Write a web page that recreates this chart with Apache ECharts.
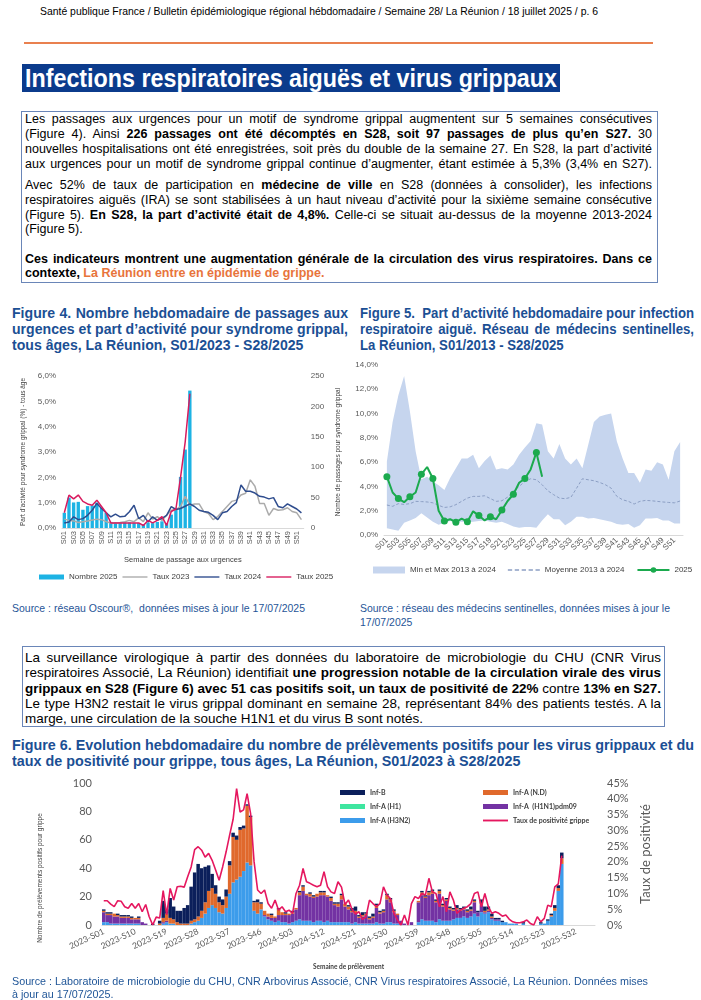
<!DOCTYPE html>
<html><head><meta charset="utf-8">
<script src="https://cdn.jsdelivr.net/npm/echarts@6/dist/echarts.min.js"></script>
<style>
body{margin:0;background:#fff;width:701px;height:1000px;position:relative;overflow:hidden;font-family:'Liberation Sans',Arial,sans-serif;color:#000;}
.a{position:absolute;white-space:nowrap;}
.box{position:absolute;border:1px solid #6A86B8;box-sizing:border-box;}
.cap{color:#1B4F94;font-weight:bold;}
.src{color:#1F5597;}
.or{color:#E8743B;}
.ch{position:absolute;}
</style></head><body>
<div style="position:absolute;left:24px;top:42px;width:629px;height:2px;background:#E9804F"></div>
<div style="position:absolute;left:22px;top:64px;width:538px;height:28px;background:#0B3B8C"></div>
<div class="box" style="left:21px;top:111px;width:637px;height:172px"></div>
<div class="box" style="left:22px;top:646px;width:643px;height:81px"></div>
<div id="c4" class="ch" style="left:0;top:360px;width:350px;height:230px"></div>
<div id="c5" class="ch" style="left:350px;top:355px;width:351px;height:235px"></div>
<div id="c6" class="ch" style="left:0;top:770px;width:701px;height:208px"></div>
<script>
// ---------- DATA ----------
const weeks = ['S01','S02','S03','S04','S05','S06','S07','S08','S09','S10','S11','S12','S13','S14','S15','S16','S17','S18','S19','S20','S21','S22','S23','S24','S25','S26','S27','S28','S29','S30','S31','S32','S33','S34','S35','S36','S37','S38','S39','S40','S41','S42','S43','S44','S45','S46','S47','S48','S49','S50','S51','S52'];

// Figure 4
const nombre2025 = [25,50,42,43,30,36,37,42,33,25,10,9,8,9,9,8,8,6,9,8,10,11,8,22,33,84,129,226];
const taux2023 = [0.35,0.3,0.28,0.22,0.25,0.28,0.32,0.35,0.33,0.25,0.2,0.2,0.22,0.25,0.3,0.25,0.4,0.25,0.6,0.35,0.45,0.3,0.5,0.7,0.72,0.85,1.25,0.9,0.95,0.95,0.65,0.57,0.33,0.45,0.65,0.85,1.05,1.1,1.3,1.37,1.9,1.65,0.97,0.97,0.5,0.77,0.7,0.72,0.8,0.65,0.6,0.33];
const taux2024 = [0.2,0.24,0.44,0.33,0.37,0.5,0.7,0.97,0.77,0.6,0.44,0.55,0.44,0.46,0.64,0.9,0.37,0.5,0.24,0.44,0.3,0.38,0.5,0.84,0.73,0.77,0.86,0.95,0.85,0.7,0.65,0.62,0.5,0.33,0.6,0.65,0.85,1.0,1.7,1.45,1.45,1.38,1.25,1.22,1.15,1.2,0.85,0.8,0.95,0.85,0.75,0.6];
const taux2025 = [0.6,1.3,1.15,1.3,1.05,0.95,0.9,1.1,0.85,0.6,0.2,0.2,0.2,0.2,0.2,0.2,0.2,0.1,0.3,0.2,0.3,0.45,0.1,0.65,0.75,2.0,3.4,5.3];

// Figure 5
const ira2025 = [4.8,3.5,3.0,2.7,3.15,3.5,5.0,5.6,4.65,2.0,1.15,1.3,1.05,1.35,1.1,1.95,1.6,1.2,1.5,1.3,2.05,2.8,3.35,4.3,4.65,5.4,6.8,4.8];
const moyenne = [2.47,2.36,2.58,2.52,2.58,2.77,2.75,2.72,2.65,2.44,2.27,2.32,2.5,2.77,3.04,3.18,3.18,3.23,3.0,2.77,2.82,3.12,3.59,4.0,4.41,4.63,4.55,4.14,3.64,3.32,3.04,2.99,3.1,3.86,4.63,4.55,4.47,4.33,4.14,3.86,3.18,2.9,2.77,2.55,2.77,2.85,2.82,2.77,2.72,2.68,2.65,2.8];
const maxi = [6.05,9.3,11.5,13.1,10.2,6.9,4.6,4.8,4.4,4.1,3.7,4.7,5.5,6.3,6.3,6.6,5.5,6.1,6.55,5.4,5.5,5.4,5.8,6.6,7.2,7.75,9.2,9.1,6.9,6.3,7.5,6.3,5.8,6.3,5.5,7.4,9.3,9.75,9.9,10.0,7.7,6.3,5.1,5.1,4.3,5.4,5.3,6.0,5.8,4.55,6.9,7.65];
const mini = [0.55,0.45,0.35,1.0,1.2,1.4,1.8,1.45,1.1,0.85,1.0,1.15,1.1,1.1,1.05,1.1,1.15,1.2,1.1,1.0,1.1,0.9,0.7,0.6,0.65,0.65,0.6,1.2,1.7,1.3,1.3,0.8,1.1,1.5,1.5,1.35,1.4,1.3,1.2,1.1,0.9,0.85,0.9,0.6,0.8,1.35,1.35,1.4,1.2,1.2,0.95,0.95];

// Figure 6 (2023-S01 ... 2025-S28)
const years6 = ['2023','2024','2025'];
const infA_H3N2 = [2,2,1,1,1,1,1,1,1,1,1,0,0,0,0,0,0,1,2,1,1,0,0,0,0,1,2,3,5,8,12,14,12,9,8,12,22,30,32,34,38,44,42,10,8,11,6,4,3,2,3,2,
 2,1,2,3,4,3,3,3,2,3,3,2,3,2,2,2,2,2,2,1,2,1,1,1,1,1,2,1,1,2,2,1,1,0,0,0,0,0,2,4,3,3,3,2,4,3,3,3,4,5,5,6,
 5,6,8,6,9,8,9,4,3,3,2,2,1,1,1,0,1,0,0,0,0,1,1,3,6,10,24,43];
const infA_H1N1 = [7,5,6,5,5,4,4,4,3,3,3,2,1,0,0,0,0,1,1,0,0,0,0,0,0,0,0,0,0,0,0,0,0,0,0,0,0,0,0,0,0,0,0,0,0,0,1,2,2,3,4,5,
 5,6,6,8,17,21,18,17,17,17,18,19,17,15,12,11,16,11,9,8,6,4,5,6,3,4,10,7,8,16,14,8,6,3,1,0,2,0,14,17,16,18,19,14,18,10,14,8,6,6,5,5,
 4,4,8,3,5,1,1,1,1,1,0,0,0,0,0,0,0,0,0,0,0,0,0,0,0,0,0,0];
const infA_H1 = [];
const infA_ND = [1,1,1,2,1,1,1,1,1,1,1,0,0,0,0,0,1,3,5,4,3,2,1,1,1,2,2,3,5,8,12,12,10,7,6,8,20,32,28,33,30,40,34,6,8,4,3,2,2,1,4,2,
 1,1,1,1,2,3,1,2,1,2,2,2,1,2,1,2,3,2,2,1,2,1,1,1,1,1,2,1,1,3,2,1,1,0,0,0,0,0,1,2,1,2,2,1,2,1,1,1,1,1,1,1,
 1,1,1,0,1,1,1,1,0,0,0,0,0,0,0,0,0,0,0,0,0,0,0,0,1,2,2,4];
const infB = [1,1,1,0,1,1,1,1,1,0,1,0,0,0,1,0,2,12,3,14,9,8,9,11,13,24,33,37,30,25,18,10,6,4,4,5,3,3,3,2,2,1,1,1,2,1,0,0,1,0,1,0,
 1,0,1,0,1,1,0,1,1,0,1,1,0,1,1,1,1,0,1,2,3,1,2,1,1,2,1,1,1,1,1,1,0,0,0,0,0,0,0,1,1,1,1,1,1,1,1,1,1,2,1,1,
 1,2,1,1,3,3,2,2,1,1,1,0,0,0,0,0,1,0,0,0,0,1,0,1,1,2,2,4];
const tauxPositivite = [7.7,7.7,6.6,5.8,7.7,7.5,5.8,5.3,6.8,5.3,6.8,4.2,6.5,2.6,0,2.5,2.2,10.9,3.2,11.6,7.9,12.1,12.3,12.0,15.3,18.4,23.9,24.8,23.7,21.5,22.7,20.5,17.4,14.2,18.4,23.2,28.5,33.5,43.2,35.8,36.5,41.6,35.3,20.0,11.1,10.0,11.1,6.8,5.3,7.9,4.7,5.8,
 4.2,4.7,3.7,10.0,12.6,17.9,13.7,13.2,12.6,12.1,12.6,16.9,12.1,10.5,10.0,13.7,12.0,6.5,7.9,5.0,3.5,4.2,1.8,2.6,7.9,6.8,5.8,6.8,12.1,9.5,8.4,3.7,1.6,0,3.2,0,6.8,9.0,8.4,10.0,9.5,14.8,10.5,10.0,5.8,9.0,4.2,10.5,7.9,3.7,4.7,5.3,
 5.8,6.8,10.0,10.5,5.8,10.0,5.8,3.7,4.2,3.7,2.8,3.2,1.8,1.0,0.7,0.7,1.0,1.6,0.5,0,2.6,1.0,2.1,6.3,5.8,12.1,13,22];

// ---------- TEXT ----------
const B = s => '<b>'+s+'</b>';
const lines = [
 // [block, class, fontSize, left, centerY, width, mode, html]   class 'n' = narrow
 ['hd','n',11.5,40,11,558,'j','Santé publique France / Bulletin épidémiologique régional hébdomadaire / Semaine 28/ La Réunion / 18 juillet 2025 / p. 6'],
 ['tt','n',26,25,78,532,'s','<b style="color:#fff">Infections respiratoires aiguës et virus grippaux</b>'],
 ['b1','',12.5,25,118.5,627,'j','Les passages aux urgences pour un motif de syndrome grippal augmentent sur 5 semaines consécutives'],
 ['b1','',12.5,25,133.5,627,'j','(Figure 4). Ainsi '+B('226 passages ont été décomptés en S28, soit 97 passages de plus qu’en S27.')+' 30'],
 ['b1','',12.5,25,148.5,627,'j','nouvelles hospitalisations ont été enregistrées, soit près du double de la semaine 27. En S28, la part d’activité'],
 ['b1','',12.5,25,163.5,627,'j','aux urgences pour un motif de syndrome grippal continue d’augmenter, étant estimée à 5,3% (3,4% en S27).'],
 ['b1','',12.5,25,184.5,627,'j','Avec 52% de taux de participation en '+B('médecine de ville')+' en S28 (données à consolider), les infections'],
 ['b1','',12.5,25,199.5,627,'j','respiratoires aiguës (IRA) se sont stabilisées à un haut niveau d’activité pour la sixième semaine consécutive'],
 ['b1','',12.5,25,214.5,627,'j','(Figure 5). '+B('En S28, la part d’activité était de 4,8%.')+' Celle-ci se situait au-dessus de la moyenne 2013-2024'],
 ['b1','',12.5,25,229,0,'','(Figure 5).'],
 ['b1','',12.5,25,258.5,627,'j',B('Ces indicateurs montrent une augmentation générale de la circulation des virus respiratoires. Dans ce')],
 ['b1','',12.5,25,273,0,'',B('contexte, <span class="or">La Réunion entre en épidémie de grippe.</span>')],
 ['c4','n cap',15,12,312,336,'j','Figure 4. Nombre hebdomadaire de passages aux'],
 ['c4','n cap',15,12,328,336,'j','urgences et part d’activité pour syndrome grippal,'],
 ['c4','n cap',15,12,344,0,'','tous âges, La Réunion, S01/2023 - S28/2025'],
 ['c5','n cap',15,360,312,334,'j','Figure 5.&nbsp; Part d’activité hebdomadaire pour infection'],
 ['c5','n cap',15,360,328,334,'j','respiratoire aiguë. Réseau de médecins sentinelles,'],
 ['c5','n cap',15,360,344,0,'','La Réunion, S01/2013 - S28/2025'],
 ['s4','n src',11,12,608,293,'j','Source : réseau Oscour®,&nbsp; données mises à jour le 17/07/2025'],
 ['s5','n src',11,360,608,310,'j','Source : réseau des médecins sentinelles, données mises à jour le'],
 ['s5','n src',11,360,622,0,'','17/07/2025'],
 ['b2','n',13.5,25,657,636,'j','La surveillance virologique à partir des données du laboratoire de microbiologie du CHU (CNR Virus'],
 ['b2','n',13.5,25,672.5,636,'j','respiratoires Associé, La Réunion) identifiait '+B('une progression notable de la circulation virale des virus')],
 ['b2','n',13.5,25,688,636,'j',B('grippaux en S28 (Figure 6) avec 51 cas positifs soit, un taux de positivité de 22%')+' contre '+B('13% en S27.')],
 ['b2','n',13.5,25,703,636,'j','Le type H3N2 restait le virus grippal dominant en semaine 28, représentant 84% des patients testés. A la'],
 ['b2','n',13.5,25,718,0,'','marge, une circulation de la souche H1N1 et du virus B sont notés.'],
 ['c6','n cap',15,12,744,682,'j','Figure 6. Evolution hebdomadaire du nombre de prélèvements positifs pour les virus grippaux et du'],
 ['c6','n cap',15,12,760,0,'','taux de positivité pour grippe, tous âges, La Réunion, S01/2023 à S28/2025'],
 ['s6','n src',11,12,981,636,'j','Source : Laboratoire de microbiologie du CHU, CNR Arbovirus Associé, CNR Virus respiratoires Associé, La Réunion. Données mises'],
 ['s6','n src',11,12,994,0,'','à jour au 17/07/2025.']
];
// create, measure, then compress narrow blocks so their densest justified line fits exactly
const made = lines.map(([blk,cls,fs,x,yc,w,mode,html])=>{
  const d=document.createElement('div');
  d.className='a '+cls; d.innerHTML=html;
  const lh=Math.round(fs*1.25);
  d.style.cssText+=`left:${x}px;top:${yc-lh/2}px;font-size:${fs}px;line-height:${lh}px;`;
  document.body.appendChild(d);
  return {d,blk,narrow:cls.split(' ').includes('n'),w,mode,w0:d.getBoundingClientRect().width};
});
const blockSx = {};
made.forEach(m=>{
  if(!m.w) return;
  const r = m.w/m.w0;
  if(m.narrow || r<1) blockSx[m.blk] = Math.min(blockSx[m.blk] ?? (m.narrow?9:1), r);
});
made.forEach(m=>{
  const sx = blockSx[m.blk] ?? 1;
  if(m.w && m.mode==='j'){
    const n=m.d.textContent.trim().split(/\s+/).length-1;
    if(n>0) m.d.style.wordSpacing=((m.w/sx-m.w0)/n)+'px';
  }
  if(sx!==1){ m.d.style.transformOrigin='0 50%'; m.d.style.transform=`scaleX(${sx})`; }
});

// ---------- FIGURE 4 ----------
const pct1 = v => v.toFixed(1).replace('.',',')+'%';
const axTxt = {fontSize:8,color:'#595959'};
const lineIcon = 'path://M0,0L40,0L40,2.2L0,2.2Z';
echarts.init(document.getElementById('c4')).setOption({
  animation:false,
  textStyle:{fontFamily:'Liberation Sans, Arial'},
  grid:{left:62,right:44,top:16,bottom:62},
  legend:{left:34,top:208,width:320,itemWidth:25,itemHeight:5,itemGap:5,textStyle:{fontSize:8,color:'#404040'},
    data:[{name:'Nombre 2025',icon:'rect'},{name:'Taux 2023',icon:lineIcon},{name:'Taux 2024',icon:lineIcon},{name:'Taux 2025',icon:lineIcon}]},
  xAxis:{type:'category',data:weeks,axisTick:{show:false},axisLine:{lineStyle:{color:'#D9D9D9'}},
    axisLabel:Object.assign({rotate:90,interval:1,margin:3},axTxt,{fontSize:7.5}),
    name:'Semaine de passage aux urgences',nameLocation:'middle',nameGap:28,nameTextStyle:{fontSize:7.5,color:'#404040'}},
  yAxis:[
    {type:'value',min:0,max:6,interval:1,splitLine:{show:false},axisLine:{show:false},
     axisLabel:Object.assign({formatter:pct1,margin:6},axTxt),
     name:'Part d’activité pour syndrome grippal (%) - tous âge',nameLocation:'middle',nameRotate:90,nameGap:34,nameTextStyle:{fontSize:6.5,color:'#404040'}},
    {type:'value',min:0,max:250,interval:50,splitLine:{show:false},axisLine:{show:false},
     axisLabel:Object.assign({margin:7},axTxt),
     name:'Nombre de passages pour syndrome grippal',nameLocation:'middle',nameRotate:90,nameGap:24,nameTextStyle:{fontSize:6.5,color:'#404040'}}
  ],
  series:[
    {name:'Nombre 2025',type:'bar',yAxisIndex:1,data:nombre2025,barWidth:'72%',itemStyle:{color:'#1DB3E4'}},
    {name:'Taux 2023',type:'line',data:taux2023,symbol:'none',lineStyle:{width:1.5,color:'#ABABAB'},itemStyle:{color:'#ABABAB'}},
    {name:'Taux 2024',type:'line',data:taux2024,symbol:'none',lineStyle:{width:1.5,color:'#2F4D8E'},itemStyle:{color:'#2F4D8E'}},
    {name:'Taux 2025',type:'line',data:taux2025,symbol:'none',lineStyle:{width:1.5,color:'#D81B5E'},itemStyle:{color:'#D81B5E'}}
  ]
});

// ---------- FIGURE 5 ----------
const ecart = maxi.map((v,i)=>+(v-mini[i]).toFixed(2));
const dashIcon = 'path://M0,0H5V1.6H0Z M8,0H13V1.6H8Z M16,0H21V1.6H16Z M24,0H29V1.6H24Z M32,0H37V1.6H32Z';
echarts.init(document.getElementById('c5')).setOption({
  animation:false,
  textStyle:{fontFamily:'Liberation Sans, Arial'},
  grid:{left:34,right:18,top:10,bottom:55},
  legend:{left:18,top:206,itemWidth:32,itemHeight:7,itemGap:12,textStyle:{fontSize:8,color:'#404040'},
    data:[{name:'Min et Max 2013 à 2024',icon:'rect',itemStyle:{color:'#C6D5EE'}},{name:'Moyenne 2013 à 2024',icon:dashIcon},'2025']},
  xAxis:{type:'category',data:weeks,axisTick:{show:false},axisLine:{lineStyle:{color:'#D9D9D9'}},
    axisLabel:Object.assign({rotate:45,interval:1,margin:4},axTxt)},
  yAxis:{type:'value',min:0,max:14,interval:2,splitLine:{show:false},axisLine:{show:false},
    axisLabel:Object.assign({formatter:pct1,margin:6},axTxt)},
  series:[
    {name:'base',type:'line',stack:'band',data:mini,symbol:'none',lineStyle:{opacity:0},silent:true},
    {name:'Min et Max 2013 à 2024',type:'line',stack:'band',data:ecart,symbol:'none',lineStyle:{opacity:0,width:0},
     areaStyle:{color:'#C6D5EE',opacity:1},itemStyle:{color:'#C6D5EE'}},
    {name:'Moyenne 2013 à 2024',type:'line',data:moyenne,symbol:'none',lineStyle:{width:1,type:[3,2],color:'#8C9FC4'},itemStyle:{color:'#8C9FC4'}},
    {name:'2025',type:'line',data:ira2025,symbol:'circle',symbolSize:7,lineStyle:{width:2,color:'#1BAA4E'},itemStyle:{color:'#1BAA4E'}}
  ]
});

// ---------- FIGURE 6 ----------
const cat6 = [].concat(
  weeks.map(w=>years6[0]+'-'+w),
  weeks.map(w=>years6[1]+'-'+w),
  weeks.slice(0,37).map(w=>years6[2]+'-'+w));
const ax6 = {fontSize:11,color:'#595959'};
const leg6 = {orient:'vertical',top:14,itemWidth:25,itemHeight:5,itemGap:7,icon:'rect',textStyle:{fontSize:7,color:'#404040',fontWeight:'bold'}};
echarts.init(document.getElementById('c6')).setOption({
  animation:false,
  textStyle:{fontFamily:'Lato, Liberation Sans'},
  grid:{left:102,right:106,top:13,bottom:53},
  legend:[
    Object.assign({left:335,data:['Inf-B','Inf-A (H1)','Inf-A (H3N2)']},leg6),
    Object.assign({left:478,data:['Inf-A (N.D)','Inf-A  (H1N1)pdm09',{name:'Taux de positivité grippe',icon:'path://M0,0L40,0L40,3L0,3Z'}]},leg6)
  ],
  xAxis:{type:'category',data:cat6,axisTick:{show:false},axisLine:{lineStyle:{color:'#D9D9D9'}},
    axisLabel:{rotate:25,interval:8,margin:6,fontSize:8.5,color:'#595959'},
    name:'Semaine de prélèvement',nameLocation:'middle',nameGap:38,nameTextStyle:{fontSize:6.5,fontWeight:'bold',color:'#404040'}},
  yAxis:[
    {type:'value',min:0,max:100,interval:20,splitLine:{show:false},axisLine:{show:false},axisLabel:Object.assign({margin:10},ax6)},
    {type:'value',min:0,max:45,interval:5,splitLine:{show:false},axisLine:{show:false},
     axisLabel:Object.assign({margin:12,formatter:'{value}%'},ax6),
     name:'Taux de positivité',nameLocation:'middle',nameRotate:90,nameGap:36,nameTextStyle:{fontSize:13,color:'#595959'}}
  ],
  graphic:[{type:'text',x:40,y:108,rotation:Math.PI/2,
    style:{text:'Nombre de prélèvements positifs pour grippe',fontSize:6.5,fill:'#404040',align:'center',verticalAlign:'middle',fontFamily:'Liberation Sans'}}],
  series:[
    {name:'Inf-A (H3N2)',type:'bar',stack:'g',data:infA_H3N2,barCategoryGap:'0%',itemStyle:{color:'#3C9CEB'}},
    {name:'Inf-A  (H1N1)pdm09',type:'bar',stack:'g',data:infA_H1N1,itemStyle:{color:'#7332A3'}},
    {name:'Inf-A (H1)',type:'bar',stack:'g',data:infA_H1,itemStyle:{color:'#3EE6A0'}},
    {name:'Inf-A (N.D)',type:'bar',stack:'g',data:infA_ND,itemStyle:{color:'#E0692C'}},
    {name:'Inf-B',type:'bar',stack:'g',data:infB,itemStyle:{color:'#0B1F5B'}},
    {name:'Taux de positivité grippe',type:'line',yAxisIndex:1,data:tauxPositivite,symbol:'none',lineStyle:{width:1.6,color:'#E5175F'},itemStyle:{color:'#E5175F'}}
  ]
});
</script>
</body></html>
